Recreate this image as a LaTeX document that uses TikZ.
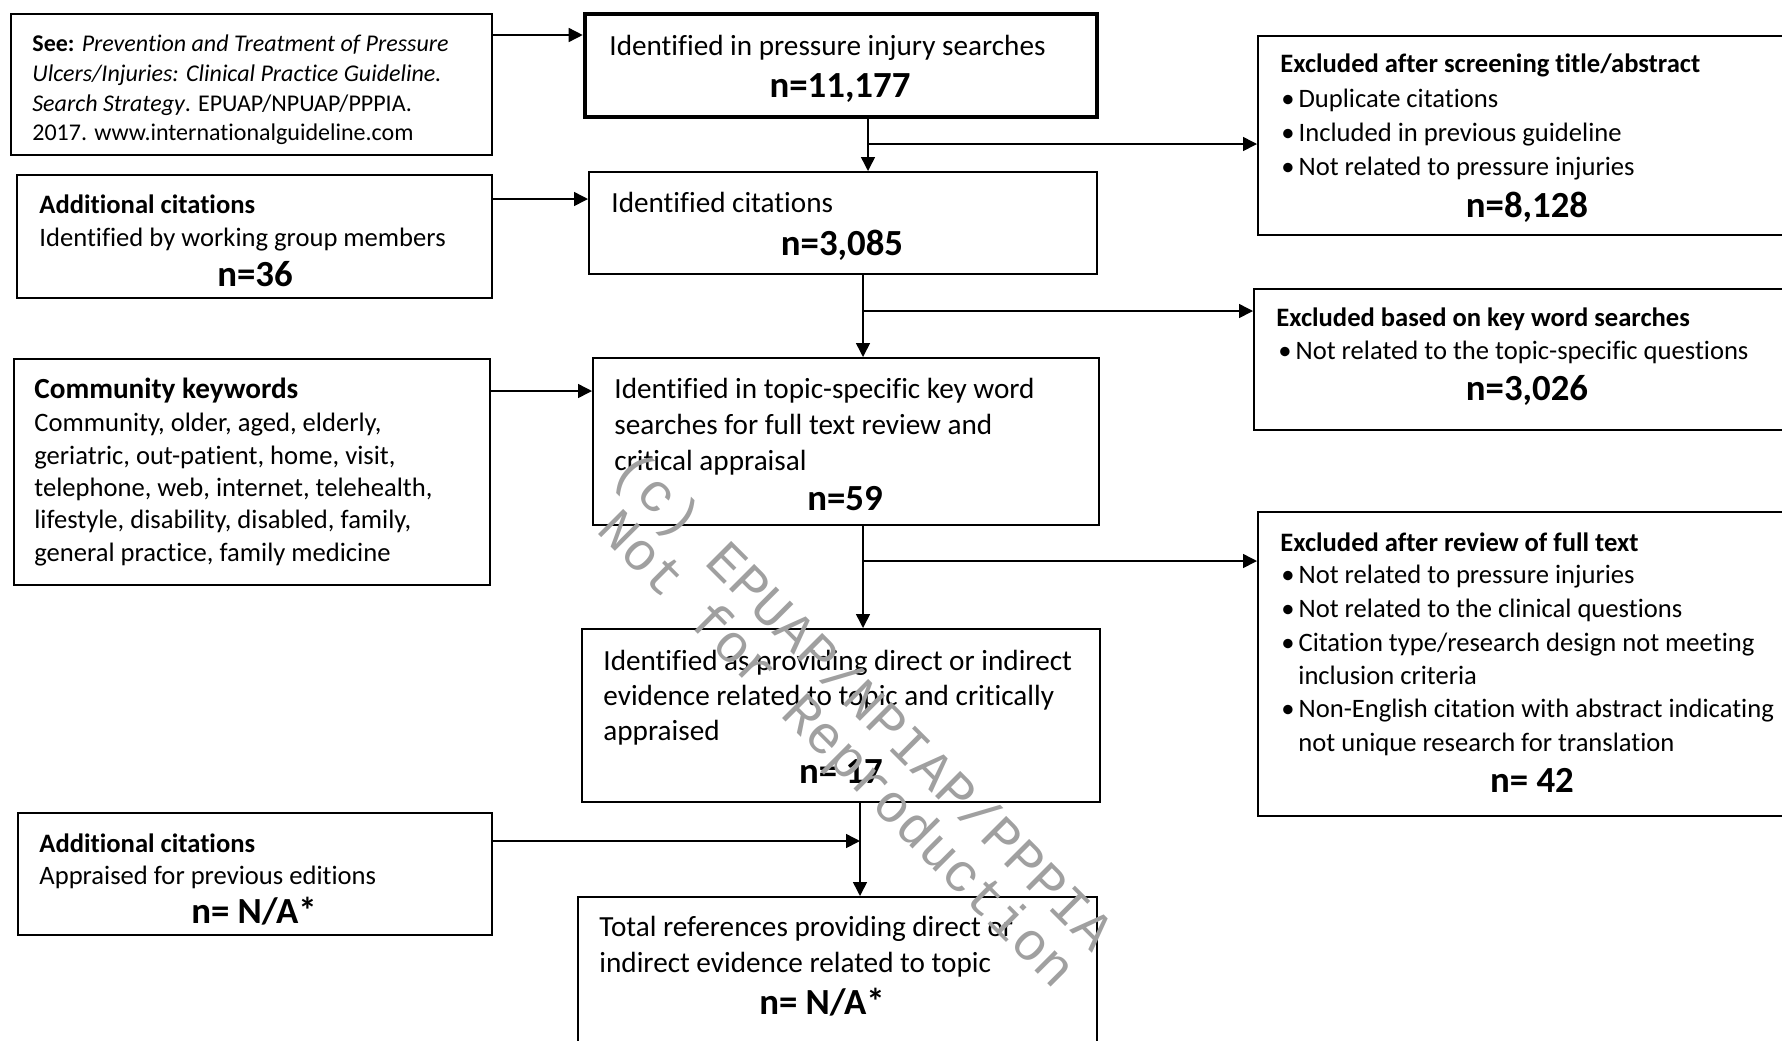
\documentclass[tikz,border=0pt]{standalone}
\usepackage{fontspec}
\setmainfont{Carlito}[Ligatures=NoCommon]
\newfontfamily\wmfont{Liberation Mono}
\usetikzlibrary{arrows.meta,fit}
\newcommand\fsz[2]{\fontsize{#1}{#2}\selectfont}
\newcommand\bul[1]{\makebox[8.6pt][l]{\textbullet}#1}
\definecolor{wmgray}{RGB}{160,160,160}
\tikzset{
  box/.style={draw, line width=1pt, inner sep=0pt},
  thickbox/.style={draw, line width=2.3pt, inner sep=0pt},
  thinbox/.style={draw, line width=0.6pt, inner sep=0pt},
  arr/.style={line width=0.75pt, -{Triangle[length=7pt,width=7pt]}},
  mt/.style={anchor=base west, inner sep=0pt, font=\fsz{14.6}{18}},
  nt/.style={anchor=base, inner sep=0pt, font=\bfseries\fsz{18.4}{22}},
  et/.style={anchor=base west, inner sep=0pt, font=\fsz{13.3}{17}},
  st/.style={anchor=base west, inner sep=0pt, font=\fsz{12}{15}},
  wm/.style={inner sep=0pt, text=wmgray, font=\wmfont\fsz{27}{27}, rotate=-45}
}
\begin{document}
\begin{tikzpicture}[x=0.5pt,y=-0.5pt]
\useasboundingbox (0,0) rectangle (1782,1040);
\clip (0,0) rectangle (1782,1040);

% ---------- boxes ----------
\node[box, fit={(11,14) (492,155)}] (see) {};
\node[box, fit={(17,175) (492,298)}] (add1) {};
\node[thinbox, fit={(14,359) (490,585)}] (comm) {};
\node[box, fit={(18,813) (492,935)}] (add2) {};
\node[thickbox, fit={(585,14) (1097,117)}] (ident) {};
\node[box, fit={(589,172) (1097,274)}] (cit) {};
\node[box, fit={(593,358) (1099,525)}] (topic) {};
\node[box, fit={(582,629) (1100,802)}] (apprai) {};
\node[box, fit={(578,897) (1097,1070)}] (total) {};
\node[box, fit={(1258,36) (1810,235)}] (ex1) {};
\node[box, fit={(1254,289) (1810,430)}] (ex2) {};
\node[box, fit={(1258,512) (1810,816)}] (ex3) {};

% ---------- texts: left column ----------
\node[st] (see1) at (32,51) {\textbf{See:} \textit{Prevention and Treatment of Pressure}};
\node[st] (see2) at (32,81) {\textit{Ulcers/Injuries: Clinical Practice Guideline.}};
\node[st] (see3) at (32,111) {\textit{Search Strategy}. EPUAP/NPUAP/PPPIA.};
\node[st] (see4) at (32,140) {2017. www.internationalguideline.com};

\node[et, font=\bfseries\fsz{13.3}{17}] (a1h) at (39,213) {Additional citations};
\node[et] (a1t) at (39,246) {Identified by working group members};
\node[nt] (a1n) at (255,286) {n=36};

\node[et, font=\bfseries\fsz{14.6}{17}] (cmh) at (34,398) {Community keywords};
\node[et] (cm1) at (34,431) {Community, older, aged, elderly,};
\node[et] (cm2) at (34,464) {geriatric, out-patient, home, visit,};
\node[et] (cm3) at (34,496) {telephone, web, internet, telehealth,};
\node[et] (cm4) at (34,528) {lifestyle, disability, disabled, family,};
\node[et] (cm5) at (34,561) {general practice, family medicine};

\node[et, font=\bfseries\fsz{13.3}{17}] (a2h) at (39,852) {Additional citations};
\node[et] (a2t) at (39,884) {Appraised for previous editions};
\node[nt] (a2n) at (254,923) {n= N/A*};

% ---------- texts: centre column ----------
\node[mt] (id1) at (609,55) {Identified in pressure injury searches};
\node[nt] (idn) at (840,97) {n=11,177};

\node[mt] (ci1) at (611,212) {Identified citations};
\node[nt] (cin) at (842,255) {n=3,085};

\node[mt] (tp1) at (614,398) {Identified in topic-specific key word};
\node[mt] (tp2) at (614,434) {searches for full text review and};
\node[mt] (tp3) at (614,470) {critical appraisal};
\node[nt] (tpn) at (845,510) {n=59};

\node[mt] (ap1) at (603,670) {Identified as providing direct or indirect};
\node[mt] (ap2) at (603,705) {evidence related to topic and critically};
\node[mt] (ap3) at (603,740) {appraised};
\node[nt] (apn) at (841,783) {n= 17};

\node[mt] (to1) at (599,936) {Total references providing direct or};
\node[mt] (to2) at (599,972) {indirect evidence related to topic};
\node[nt] (ton) at (822,1014) {n= N/A*};

% ---------- texts: right column ----------
\node[et, font=\bfseries\fsz{13.3}{17}] (e1h) at (1280,72) {Excluded after screening title/abstract};
\node[et] (e11) at (1281,107) {\bul{Duplicate citations}};
\node[et] (e12) at (1281,141) {\bul{Included in previous guideline}};
\node[et] (e13) at (1281,175) {\bul{Not related to pressure injuries}};
\node[nt] (e1n) at (1527,217) {n=8,128};

\node[et, font=\bfseries\fsz{13.3}{17}] (e2h) at (1276,326) {Excluded based on key word searches};
\node[et] (e21) at (1278,359) {\bul{Not related to the topic-specific questions}};
\node[nt] (e2n) at (1527,400) {n=3,026};

\node[et, font=\bfseries\fsz{13.3}{17}] (e3h) at (1280,551) {Excluded after review of full text};
\node[et] (e31) at (1281,583) {\bul{Not related to pressure injuries}};
\node[et] (e32) at (1281,617) {\bul{Not related to the clinical questions}};
\node[et] (e33) at (1281,651) {\bul{Citation type/research design not meeting}};
\node[et] (e34) at (1298,684) {inclusion criteria};
\node[et] (e35) at (1281,717) {\bul{Non-English citation with abstract indicating}};
\node[et] (e36) at (1298,751) {not unique research for translation};
\node[nt] (e3n) at (1532,792) {n= 42};

% ---------- connectors ----------
\draw[arr] (see.east |- 0,35) -- (ident.west |- 0,35);
\draw[arr] (add1.east |- 0,199) -- (cit.west |- 0,199);
\draw[arr] (comm.east |- 0,391) -- (topic.west |- 0,391);

\coordinate (j1) at (868,144);
\draw[arr] (ident.south -| j1) -- (cit.north -| j1);
\draw[arr] (j1) -- (ex1.west |- j1);

\coordinate (j2) at (863,311);
\draw[arr] (cit.south -| j2) -- (topic.north -| j2);
\draw[arr] (j2) -- (ex2.west |- j2);

\coordinate (j3) at (863,561);
\draw[arr] (topic.south -| j3) -- (apprai.north -| j3);
\draw[arr] (j3) -- (ex3.west |- j3);

\coordinate (j4) at (860,841);
\draw[arr] (apprai.south -| j4) -- (total.north -| j4);
\draw[arr] (add2.east |- j4) -- (j4);

% ---------- watermark ----------
\node[wm] (wm1) at (862,703) {(c) EPUAP/NPIAP/PPPIA};
\node[wm] (wm2) at (835,751) {Not for Reproduction};
\end{tikzpicture}
\end{document}
